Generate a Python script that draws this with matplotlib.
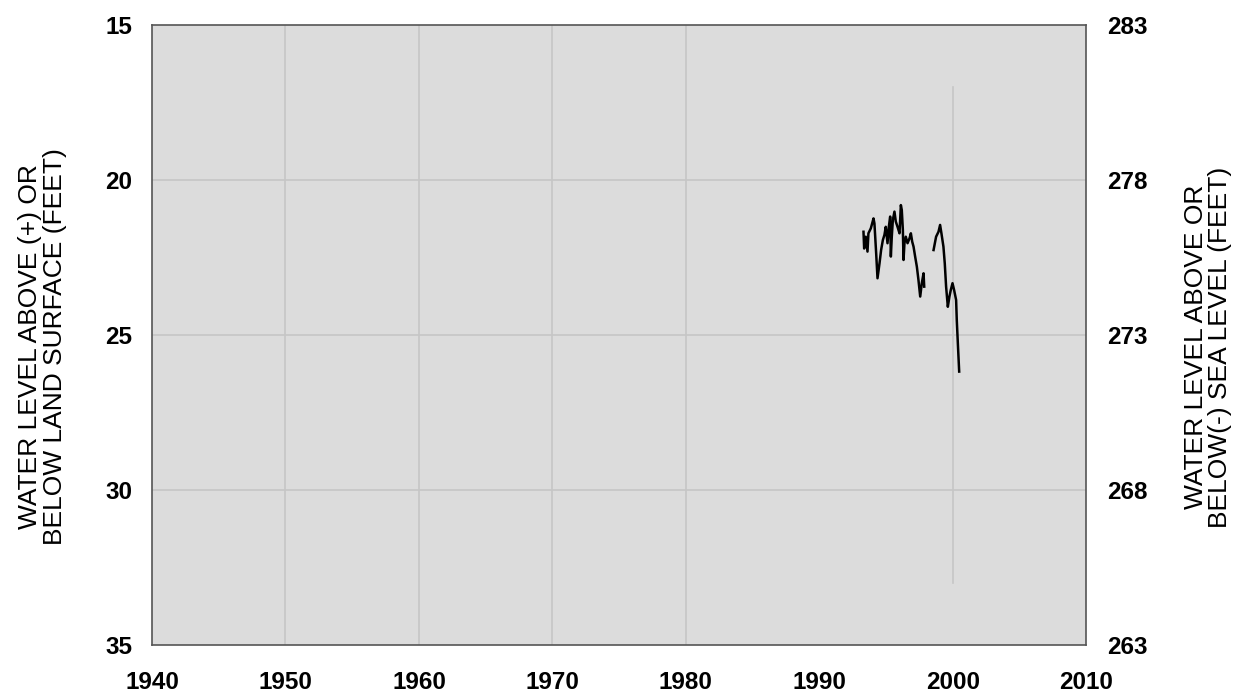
import numpy as np
import matplotlib
matplotlib.use("Agg")
import matplotlib.pyplot as plt

# Data (years, depth below land surface in feet); NaN marks a gap
years = [1993.31, 1993.36, 1993.48, 1993.61, 1993.68, 1993.86, 1994.06, 1994.13,
         1994.26, 1994.36, 1994.51, 1994.63, 1994.76, 1994.88, 1994.98, 1995.11,
         1995.21, 1995.31, 1995.36, 1995.43, 1995.51, 1995.63, 1995.73, 1995.86,
         1996.01, 1996.11, 1996.18, 1996.26, 1996.31, 1996.38, 1996.48, 1996.61,
         1996.76, 1996.86, 1996.96, 1997.06, 1997.18, 1997.31, 1997.43, 1997.56,
         1997.68, 1997.81, 1997.86, 1998.2,
         1998.56, 1998.75, 1998.93, 1999.05, 1999.15, 1999.30, 1999.40, 1999.50,
         1999.63, 1999.75, 1999.85, 1999.98, 2000.10, 2000.25, 2000.30, 2000.38,
         2000.48]
depth = [21.67, 22.21, 21.83, 22.31, 21.72, 21.56, 21.24, 21.40,
         22.37, 23.17, 22.69, 22.26, 21.94, 21.77, 21.51, 22.04,
         21.51, 21.18, 22.47, 21.83, 21.29, 21.02, 21.34, 21.51,
         21.72, 20.81, 20.97, 21.61, 22.58, 22.04, 21.83, 22.04,
         21.88, 21.72, 21.99, 22.15, 22.47, 22.80, 23.23, 23.76,
         23.33, 23.01, 23.44, np.nan,
         22.26, 21.83, 21.67, 21.45, 21.72, 22.15, 22.69, 23.44,
         24.09, 23.76, 23.55, 23.33, 23.55, 23.87, 24.52, 25.27,
         26.18]

x_ticks = [1940, 1950, 1960, 1970, 1980, 1990, 2000, 2010]
y_ticks = [15, 20, 25, 30, 35]
land_surface_elev = 298  # sea level = 298 - depth
grid_years = [1950, 1960, 1970, 1980]

fig = plt.figure(figsize=(12.39, 6.94), dpi=100)
ax = fig.add_axes([0.1227, 0.0706, 0.754, 0.8934])
ax.set_facecolor("#dcdcdc")

for gy in grid_years:
    ax.axvline(gy, color="#c6c6c6", lw=1.2, zorder=1)
ax.axvline(2000, ymin=0.1, ymax=0.9, color="#c6c6c6", lw=1.2, zorder=1)
for gv in y_ticks[1:-1]:
    ax.axhline(gv, color="#c6c6c6", lw=1.2, zorder=1)

ax.plot(years, depth, color="black", lw=1.8, zorder=3)

ax.set_xlim(1940, 2010)
ax.set_ylim(35, 15)
ax.set_xticks(x_ticks)
ax.set_yticks(y_ticks)
ax.tick_params(length=0, labelsize=17.5)
ax.tick_params(axis="y", pad=14)
ax.tick_params(axis="x", pad=19)
for lab in ax.get_xticklabels() + ax.get_yticklabels():
    lab.set_fontweight("bold")
    lab.set_family("Liberation Sans")
for s in ax.spines.values():
    s.set_color("#555555")
    s.set_linewidth(1.2)

ax2 = ax.twinx()
ax2.set_ylim(land_surface_elev - 35, land_surface_elev - 15)
ax2.set_yticks([land_surface_elev - v for v in y_ticks])
ax2.tick_params(length=0, pad=15, labelsize=17.5)
for lab in ax2.get_yticklabels():
    lab.set_fontweight("bold")
    lab.set_family("Liberation Sans")
for s in ax2.spines.values():
    s.set_visible(False)

fig.text(0.034, 0.5, "WATER LEVEL ABOVE (+) OR\nBELOW LAND SURFACE (FEET)",
         rotation=90, ha="center", va="center", fontsize=19,
         family="Liberation Sans", linespacing=1.05)
fig.text(0.975, 0.5, "WATER LEVEL ABOVE OR\nBELOW(-) SEA LEVEL (FEET)",
         rotation=90, ha="center", va="center", fontsize=19,
         family="Liberation Sans", linespacing=1.05)

fig.savefig("out.png", dpi=100, facecolor="white")
